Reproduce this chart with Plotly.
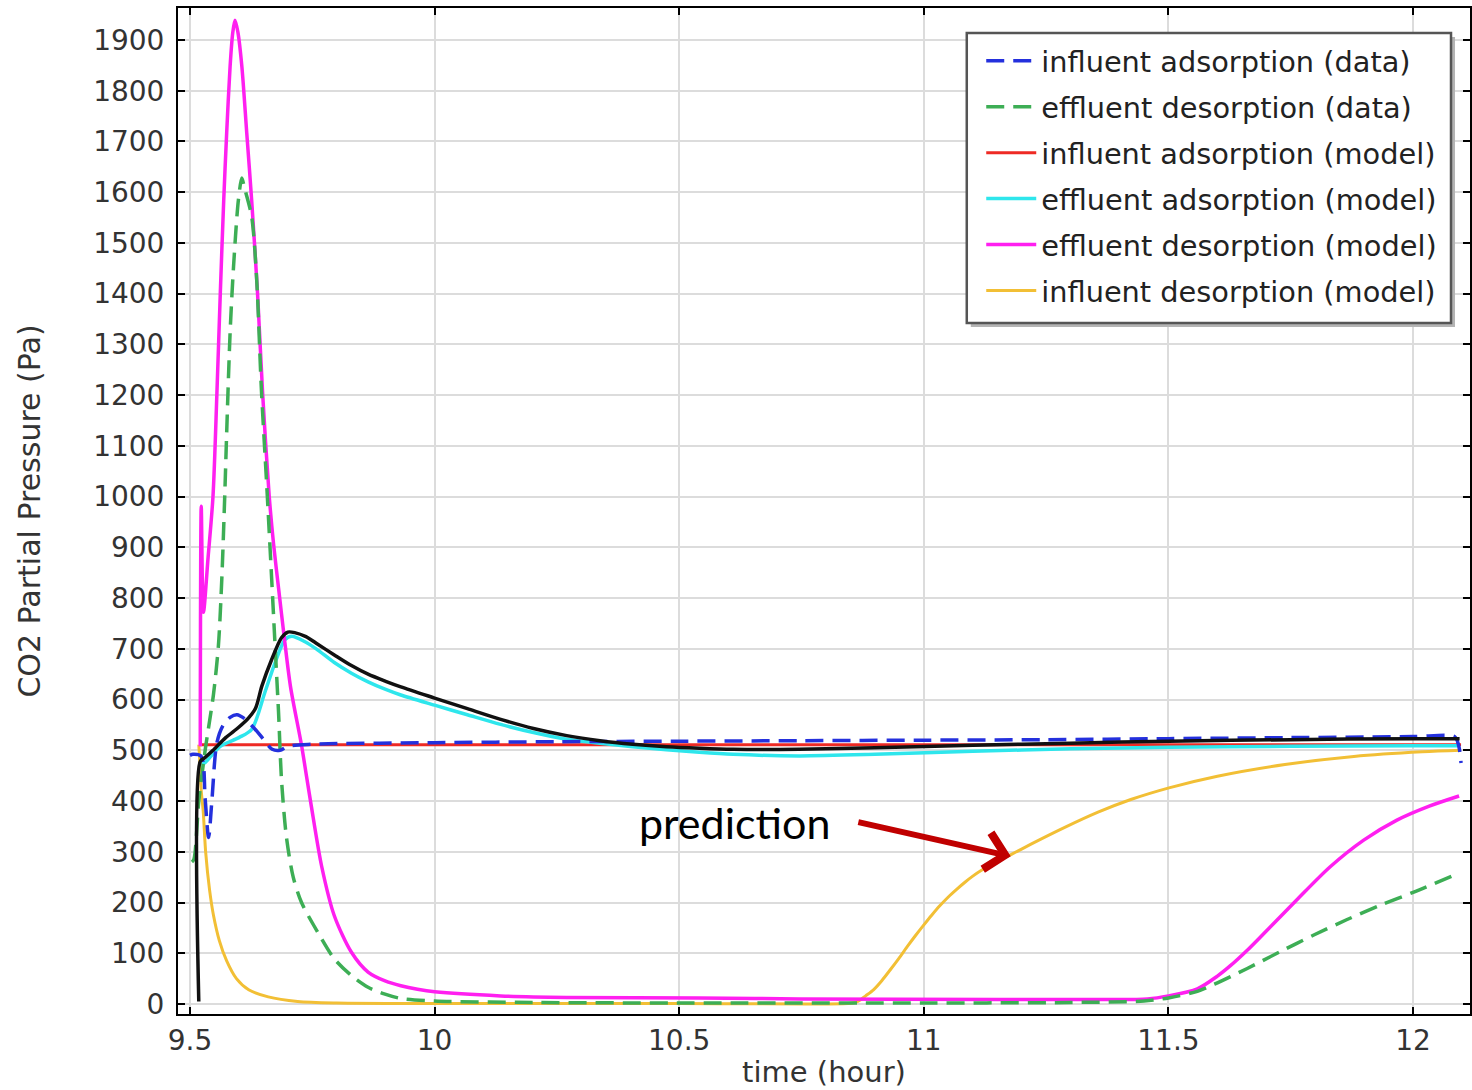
import plotly.graph_objects as go

# Time axis (hours) and CO2 partial pressure (Pa) for each series

blu_t = [9.500, 9.506, 9.523, 9.531, 9.538, 9.545, 9.555, 9.568, 9.582, 9.596,
         9.612, 9.630, 9.650, 9.668, 9.684, 9.700, 9.75, 10.0, 10.25, 10.5,
         10.75, 11.0, 11.25, 11.5, 11.75, 12.0, 12.085, 12.093, 12.098]
blu_v = [490, 492, 488, 404, 328, 404, 515, 550, 565, 570,
         562, 545, 522, 502, 500, 508, 512, 515, 517, 518,
         519, 520, 521, 523, 525, 527, 527, 510, 475]

grn_t = [9.504, 9.508, 9.518, 9.531, 9.538, 9.548, 9.558, 9.565, 9.571, 9.575,
         9.582, 9.589, 9.599, 9.606, 9.611, 9.626, 9.636, 9.646, 9.657, 9.667,
         9.674, 9.681, 9.687, 9.697, 9.711, 9.728, 9.762, 9.795, 9.830, 9.864,
         9.897, 9.931, 10.0, 10.2, 10.5, 11.0, 11.3, 11.45, 11.50, 11.559,
         11.594, 11.661, 11.728, 11.797, 11.864, 11.931, 12.0, 12.094]
grn_v = [280, 285, 400, 500, 545, 610, 705, 837, 1000, 1126,
         1323, 1453, 1585, 1628, 1610, 1552, 1434, 1210, 1020, 837,
         705, 575, 443, 330, 250, 200, 140, 89, 56, 33,
         20, 11, 6, 3, 2, 2, 3, 6, 12, 25,
         39, 70, 103, 136, 166, 194, 220, 258]

red_t = [9.519, 12.098]
red_v = [511, 511]

cyn_t = [9.521, 9.530, 9.562, 9.600, 9.626, 9.653, 9.674, 9.694, 9.708, 9.735,
         9.758, 9.795, 9.830, 9.864, 9.900, 9.931, 10.0, 10.067, 10.135, 10.202,
         10.27, 10.338, 10.405, 10.474, 10.541, 10.61, 10.745, 10.9, 11.1, 11.3,
         11.5, 11.75, 12.0, 12.095]
cyn_v = [470, 475, 508, 525, 541, 614, 673, 718, 725, 714,
         700, 673, 652, 635, 620, 609, 589, 570, 551, 535,
         522, 514, 507, 501, 496, 492, 489, 492, 498, 503,
         506, 508, 509, 509]

mag_t = [9.521, 9.523, 9.5275, 9.537, 9.547, 9.555, 9.562, 9.569, 9.575, 9.582,
         9.5875, 9.592, 9.598, 9.606, 9.616, 9.626, 9.638, 9.6485, 9.662, 9.671,
         9.681, 9.693, 9.7055, 9.728, 9.738, 9.748, 9.769, 9.795, 9.830, 9.864,
         9.900, 9.931, 9.965, 10.0, 10.135, 10.27, 10.54, 10.745, 11.153, 11.356,
         11.457, 11.50, 11.559, 11.60, 11.626, 11.661, 11.695, 11.762, 11.830, 11.899,
         11.966, 12.033, 12.094]
mag_v = [508, 981, 772, 880, 1000, 1203, 1402, 1585, 1717, 1848,
         1915, 1939, 1915, 1848, 1717, 1585, 1402, 1203, 1000, 905,
         820, 720, 625, 510, 450, 390, 272, 174, 102, 63,
         45, 36, 29, 24, 16, 13, 12, 10, 9, 9,
         10, 16, 30, 55, 75, 106, 139, 205, 270, 323,
         362, 390, 410]

yel_t = [9.518, 9.520, 9.523, 9.527, 9.532, 9.540, 9.548, 9.560, 9.575, 9.595,
         9.620, 9.660, 9.720, 9.800, 10.0, 10.5, 10.845, 10.859, 10.870, 10.881,
         10.897, 10.914, 10.931, 10.949, 10.966, 10.983, 11.0, 11.016, 11.033, 11.050,
         11.067, 11.084, 11.100, 11.117, 11.152, 11.179, 11.219, 11.288, 11.356, 11.423,
         11.501, 11.600, 11.738, 11.879, 12.019, 12.098]
yel_v = [511, 480, 420, 380, 300, 225, 175, 125, 85, 50,
         28, 14, 5, 2, 1, 1, 1, 3, 8, 16,
         28, 46, 67, 90, 113, 135, 156, 175, 194, 211,
         226, 240, 252, 263, 282, 295, 315, 348, 378, 403,
         426, 449, 472, 488, 497, 500]

blk_t = [9.518, 9.521, 9.530, 9.547, 9.573, 9.599, 9.619, 9.634, 9.647, 9.667,
         9.687, 9.700, 9.714, 9.737, 9.758, 9.795, 9.830, 9.864, 9.900, 9.931,
         10.0, 10.067, 10.135, 10.202, 10.27, 10.338, 10.405, 10.474, 10.541, 10.61,
         10.745, 10.9, 11.1, 11.3, 11.5, 11.75, 12.0, 12.095]
blk_v = [5, 478, 485, 500, 525, 545, 563, 583, 627, 679,
         722, 733, 732, 724, 711, 688, 667, 650, 636, 625,
         603, 582, 561, 543, 529, 519, 512, 507, 504, 502,
         502, 505, 510, 514, 518, 521, 523, 523]

x_ticks = [9.5, 10, 10.5, 11, 11.5, 12]
x_labels = ["9.5", "10", "10.5", "11", "11.5", "12"]
y_ticks = list(range(0, 2000, 100))

# (name, t, values, colour, dash, width, legend rank); listed in drawing order
series = [
    ("influent adsorption (model)", red_t, red_v, "#EE2A24", "solid", 3, 3),
    ("effluent adsorption (model)", cyn_t, cyn_v, "#2EE6EC", "solid", 3.5, 4),
    ("influent desorption (model)", yel_t, yel_v, "#F2BF35", "solid", 3, 6),
    ("effluent desorption (model)", mag_t, mag_v, "#FF1FF0", "solid", 3.5, 5),
    ("effluent desorption (data)", grn_t, grn_v, "#3DAE55", "18px,9px", 3.5, 2),
    ("influent adsorption (data)", blu_t, blu_v, "#2430DD", "18px,9px", 3.5, 1),
]

fig = go.Figure()
for name, t, v, col, dash, w, rank in series:
    fig.add_trace(go.Scatter(
        x=t, y=v, mode="lines", name=name, legendrank=rank, legendgroup=name,
        line=dict(color=col, width=w, dash=dash, shape="spline", smoothing=0.8),
    ))

fig.add_trace(go.Scatter(
    x=blk_t, y=blk_v, mode="lines", showlegend=False,
    line=dict(color="#111111", width=3.5, shape="spline", smoothing=0.8),
))

axis_common = dict(
    showgrid=True, gridcolor="#DCDCDC", gridwidth=1.5,
    showline=True, linecolor="#000000", linewidth=2, mirror="ticks",
    ticks="inside", ticklen=7, tickwidth=2, tickcolor="#000000",
    zeroline=False,
    tickfont=dict(family="DejaVu Sans", size=28, color="#333333"),
)

fig.update_xaxes(
    range=[9.4755, 12.1163], tickvals=x_ticks, ticktext=x_labels,
    title=dict(text="time (hour)", standoff=6,
               font=dict(family="DejaVu Sans", size=29, color="#333333")),
    **axis_common,
)
fig.update_yaxes(
    range=[-19.7, 1963], tickvals=y_ticks,
    title=dict(text="CO2 Partial Pressure (Pa)", standoff=44,
               font=dict(family="DejaVu Sans", size=30, color="#333333")),
    ticklabelstandoff=6,
    **axis_common,
)

# legend frame with a drop shadow (paper coordinates)
fig.add_shape(type="rect", xref="paper", yref="paper",
              x0=0.6136, x1=0.9884, y0=0.6829, y1=0.9712,
              fillcolor="#B4B4B4", line=dict(width=0), layer="above")
fig.add_shape(type="rect", xref="paper", yref="paper",
              x0=0.6105, x1=0.9853, y0=0.6869, y1=0.9752,
              fillcolor="white", line=dict(color="#555555", width=2.5), layer="above")

fig.add_annotation(
    x=10.612, y=357, xref="x", yref="y", text="prediction", showarrow=False,
    xanchor="center", yanchor="middle",
    font=dict(family="Lato, Open Sans, sans-serif", size=43, color="#000000"),
)
fig.add_annotation(
    x=11.1776, y=291, xref="x", yref="y", ax=10.863, ay=359, axref="x", ayref="y",
    text="", showarrow=True, arrowhead=4, arrowsize=1.2, arrowwidth=6,
    arrowcolor="#C00000",
)

fig.update_layout(
    width=1472, height=1090,
    margin=dict(l=178, r=0, t=8, b=76),
    paper_bgcolor="white", plot_bgcolor="white",
    font=dict(family="DejaVu Sans", size=28, color="#333333"),
    legend=dict(
        x=0.6217, y=0.9726, xanchor="left", yanchor="top",
        bgcolor="rgba(0,0,0,0)", borderwidth=0,
        font=dict(family="DejaVu Sans", size=28.8, color="#222222"),
        tracegroupgap=5.5, itemwidth=50,
    ),
)

fig.write_html("out.html")
